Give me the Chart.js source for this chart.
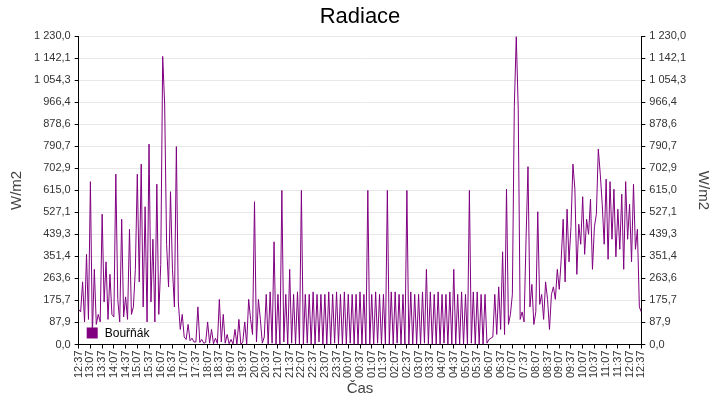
<!DOCTYPE html>
<html><head><meta charset="utf-8">
<script src="https://cdn.jsdelivr.net/npm/chart.js@4/dist/chart.umd.min.js"></script>
<style>html,body{margin:0;background:#fff}#w{width:720px;height:400px}</style>
</head><body><div id="w"><canvas id="c"></canvas></div>
<script>
const startLabel = "12:37";
const stepMinutes = 5;
const radiation = [
140,130,250,90,360,100,
650,40,300,80,120,90,
520,170,330,100,280,120,
110,680,180,90,500,110,
190,100,460,120,150,300,
680,250,720,150,550,90,
800,170,420,90,640,120,
320,1150,960,400,230,610,
300,150,790,170,60,120,
30,20,80,15,25,10,
10,150,8,20,5,8,
90,5,60,3,25,4,
180,10,120,5,40,3,
20,2,60,0,100,0,
10,90,0,180,100,40,
570,10,180,100,5,30,
200,0,210,5,410,0,
200,0,615,10,200,0,
300,5,200,0,210,0,
615,0,200,5,200,0,
210,0,200,10,200,0,
200,0,210,0,200,5,
210,0,200,0,210,0,
200,5,200,0,200,0,
210,0,200,0,615,0,
200,0,210,5,200,0,
200,0,615,0,210,0,
210,5,200,0,200,0,
615,0,210,0,200,0,
200,0,210,5,300,0,
210,0,200,0,210,0,
200,5,200,0,210,0,
300,0,200,0,210,0,
200,0,615,5,210,0,
210,0,200,0,200,5,
20,25,30,200,40,230,
60,370,40,620,80,120,
200,950,1230,940,100,130,
90,420,710,150,240,80,
130,530,160,200,100,250,
180,60,200,230,180,300,
220,340,500,250,540,330,
470,720,620,280,480,400,
590,360,500,440,580,300,
470,520,780,680,560,400,
660,340,650,420,620,350,
540,380,600,300,650,420,
560,330,640,380,460,150,
130];
const seriesLabel = "Bouřňák";
const yMax = 1230.0;
const yTickCount = 14;

const pts = radiation.map((v,i)=>({x:i*stepMinutes,y:v}));
const [sh,sm] = startLabel.split(':').map(Number);
const fmtTime = m => { const t=(sh*60+sm+m)%1440; return String(Math.floor(t/60)).padStart(2,'0')+':'+String(t%60).padStart(2,'0'); };
const fmtNum = v => { const s=v.toFixed(1).replace('.',','); const [a,b]=s.split(','); return a.replace(/\B(?=(\d{3})+(?!\d))/g,' ')+','+b; };
const F = "'Liberation Sans', Arial, sans-serif";
const tk = {font:{family:F,size:11},color:'#333'};
const yAxis = (pos)=>({type:'linear',position:pos,min:0,max:yMax,
  afterBuildTicks:a=>{a.ticks=[];for(let i=0;i<=yTickCount;i++)a.ticks.push({value:yMax*i/yTickCount});},
  ticks:{...tk,callback:v=>fmtNum(v),padding:4},
  grid:{color:pos==='left'?'#e8e8e8':'transparent',drawTicks:true,tickLength:4,tickColor:'#000'},
  border:{color:'#000',width:1},
  title:{display:true,text:'W/m2',font:{family:F,size:15},color:'#444'}});
const legendPlugin={id:'lg',afterDatasetsDraw(c){const ctx=c.ctx,a=c.chartArea;ctx.save();
  ctx.fillStyle='#800080';ctx.fillRect(a.left+8,a.bottom-17,11,11);
  ctx.fillStyle='#000';ctx.font='12px '+F;ctx.textBaseline='middle';ctx.fillText(seriesLabel,a.left+26,a.bottom-11);ctx.restore();}};
new Chart(document.getElementById('c'),{type:'line',
 data:{datasets:[{label:seriesLabel,data:pts,borderColor:'#800080',borderWidth:1,pointRadius:0,fill:false,tension:0}]},
 options:{responsive:true,maintainAspectRatio:false,animation:false,
  layout:{padding:{left:4,right:4,top:0,bottom:2}},
  plugins:{legend:{display:false},tooltip:{enabled:false},
   title:{display:true,text:'Radiace',font:{family:F,size:22,weight:'normal'},color:'#000',padding:{top:4,bottom:6}}},
  scales:{
   x:{type:'linear',min:0,max:1440,
     afterBuildTicks:a=>{a.ticks=[];for(let m=0;m<=1440;m+=30)a.ticks.push({value:m});},
     ticks:{...tk,callback:v=>fmtTime(v),maxRotation:90,minRotation:90,autoSkip:false,padding:2},
     grid:{display:true,color:'transparent',tickColor:'#000',tickLength:4},
     border:{color:'#000'},
     title:{display:true,text:'Čas',font:{family:F,size:15},color:'#444',padding:0}},
   y:yAxis('left'),
   y2:yAxis('right')}},
 plugins:[legendPlugin]});
</script></body></html>
